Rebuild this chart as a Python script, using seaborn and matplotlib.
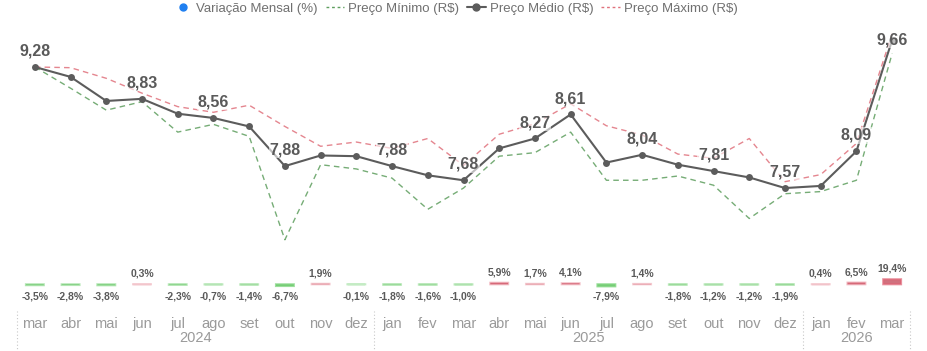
import numpy as np
import pandas as pd
import matplotlib
matplotlib.use("Agg")
import matplotlib.pyplot as plt
import matplotlib.transforms as mtransforms
from matplotlib.lines import Line2D
import seaborn as sns

# ~~~~~~~~~~~~~~~~~~~~~~~~~~~~~~ data ~~~~~~~~~~~~~~~~~~~~~~~~~~~~~~ #
meses = ['mar', 'abr', 'mai', 'jun', 'jul', 'ago', 'set', 'out', 'nov', 'dez',
         'jan', 'fev', 'mar', 'abr', 'mai', 'jun', 'jul', 'ago', 'set', 'out',
         'nov', 'dez', 'jan', 'fev', 'mar']
anos = ['2024'] * 10 + ['2025'] * 12 + ['2026'] * 3

preco_medio = [9.28, 9.14, 8.80, 8.83, 8.62, 8.56, 8.44, 7.88, 8.03, 8.02,
               7.88, 7.75, 7.68, 8.13, 8.27, 8.61, 7.93, 8.04, 7.90, 7.81,
               7.72, 7.57, 7.60, 8.09, 9.66]
preco_minimo = [9.28, 8.98, 8.67, 8.79, 8.36, 8.47, 8.30, 6.84, 7.90, 7.84,
                7.71, 7.27, 7.57, 8.02, 8.07, 8.36, 7.68, 7.68, 7.74, 7.61,
                7.14, 7.49, 7.52, 7.68, 9.47]
preco_maximo = [9.28, 9.27, 9.12, 8.91, 8.72, 8.64, 8.74, 8.44, 8.16, 8.22,
                8.13, 8.27, 7.89, 8.33, 8.48, 8.76, 8.45, 8.32, 8.05, 7.99,
                8.27, 7.66, 7.76, 8.20, 9.75]
variacao = [-3.5, -2.8, -3.8, 0.3, -2.3, -0.7, -1.4, -6.7, 1.9, -0.1,
            -1.8, -1.6, -1.0, 5.9, 1.7, 4.1, -7.9, 1.4, -1.8, -1.2,
            -1.2, -1.9, 0.4, 6.5, 19.4]
# months that carry a price label
rotulados = [0, 3, 5, 7, 10, 12, 14, 15, 17, 19, 21, 23, 24]

df = pd.DataFrame({'idx': range(len(meses)), 'mes': meses, 'ano': anos,
                   'medio': preco_medio, 'minimo': preco_minimo,
                   'maximo': preco_maximo, 'var': variacao})

# ~~~~~~~~~~~~~~~~~~~~~~~~~~~~~ styling ~~~~~~~~~~~~~~~~~~~~~~~~~~~~~ #
sns.set_theme(style="white")
plt.rcParams['font.family'] = ['Liberation Sans', 'DejaVu Sans']

c_med = '#5c5c5c'
c_min = '#5e9e5e'
c_max = '#e0717c'
c_txt = '#5a5a5a'
c_axis = '#9a9a9a'

W, H = 928, 351
fig = plt.figure(figsize=(W / 100, H / 100), dpi=100)
left, right = 17 / W, 910 / W
ax = fig.add_axes([left, 1 - 250 / H, right - left, 225 / H])
axb = fig.add_axes([left, 1 - 310 / H, right - left, 52 / H], sharex=ax)

# ~~~~~~~~~~~~~~~~~~~~~~~~~~~~~ lines ~~~~~~~~~~~~~~~~~~~~~~~~~~~~~~~ #
sns.lineplot(data=df, x='idx', y='minimo', ax=ax, color=c_min, lw=1,
             linestyle=(0, (4, 3)), alpha=0.85)
sns.lineplot(data=df, x='idx', y='maximo', ax=ax, color=c_max, lw=1,
             linestyle=(0, (4, 3)), alpha=0.85)
sns.lineplot(data=df, x='idx', y='medio', ax=ax, color=c_med, lw=1.5,
             marker='o', markersize=5, markeredgewidth=0)

ax.set_xlim(-0.5, len(meses) - 0.5)
ax.set_ylim(6.695, 9.873)
ax.axis('off')

for i in rotulados:
    v = df['medio'][i]
    lbl = '{:.2f}'.format(v).replace('.', ',')
    topo = i == len(meses) - 1
    ax.annotate(lbl, (i, v), xytext=(0, 0 if topo else 6), textcoords='offset points',
                ha='center', va='center' if topo else 'bottom',
                fontsize=11.5, weight='bold', color=c_txt,
                bbox=dict(facecolor='white', alpha=0.6, edgecolor='none', pad=0.5))

# ~~~~~~~~~~~~~~~~~~~~~~~~~~~~~ bars ~~~~~~~~~~~~~~~~~~~~~~~~~~~~~~~~ #
def bar_color(v):
    if v < 0:
        a = 0.4 + 0.35 * min(abs(v) / 8, 1)
        return (0.45, 0.82, 0.45, a)
    a = 0.3 + 0.4 * min(v / 20, 1)
    return (0.88, 0.38, 0.45, a)

cores = [bar_color(v) for v in variacao]
sns.barplot(data=df, x='idx', y='var', ax=axb, palette=cores, hue='idx',
            legend=False, width=0.5, native_scale=True, linewidth=0)
for p, c in zip(axb.patches, cores):
    p.set_edgecolor(c)
    p.set_linewidth(1.5)
    p.set_snap(False)

axb.set_ylim(-98.8, 101)
for i, v in enumerate(variacao):
    lbl = '{:.1f}%'.format(v).replace('.', ',')
    if v >= 0:
        axb.annotate(lbl, (i, v), xytext=(0, 4), textcoords='offset points',
                     ha='center', va='bottom', fontsize=7.5, weight='bold', color=c_txt)
    else:
        axb.annotate(lbl, (i, 0), xytext=(0, -5), textcoords='offset points',
                     ha='center', va='top', fontsize=7.5, weight='bold', color=c_txt)

for s in axb.spines.values():
    s.set_visible(False)
axb.set_ylabel('')
axb.set_xlabel('')
axb.set_yticks([])
axb.set_xticks(range(len(meses)))
axb.set_xticklabels(meses, fontsize=10.5, color=c_axis)
axb.tick_params(axis='x', length=0, pad=5)

# year labels and separators
trans = mtransforms.blended_transform_factory(axb.transData, axb.transAxes)
grupos = df.groupby('ano', sort=False)['idx'].agg(['min', 'max'])
seps = [-0.5]
for ano, row in grupos.iterrows():
    axb.text((row['min'] + row['max']) / 2, -0.54, ano, transform=trans,
             ha='center', va='center', fontsize=10.5, color=c_axis)
    seps.append(row['max'] + 0.5)
axb.vlines(seps, -0.8, -0.02, transform=trans, colors='#c8c8c8',
           linestyles=(0, (1, 2)), lw=0.8, clip_on=False)

# ~~~~~~~~~~~~~~~~~~~~~~~~~~~~~ legend ~~~~~~~~~~~~~~~~~~~~~~~~~~~~~~ #
handles = [
    Line2D([], [], marker='o', color='#1f7ff0', lw=0, markersize=5),
    Line2D([], [], color=c_min, lw=1, linestyle=(0, (2, 2))),
    Line2D([], [], color=c_med, lw=1.5, marker='o', markersize=5),
    Line2D([], [], color=c_max, lw=1, linestyle=(0, (2, 2))),
]
labels = ['Variação Mensal (%)', 'Preço Mínimo (R$)', 'Preço Médio (R$)', 'Preço Máximo (R$)']
fig.legend(handles, labels, loc='upper center', bbox_to_anchor=(0.491, 1.015),
           ncol=4, frameon=False, fontsize=9.5, labelcolor='#707070',
           handlelength=1.4, handletextpad=0.3, columnspacing=0.6, borderaxespad=0.2)

fig.savefig('out.png', dpi=100, facecolor='white')
